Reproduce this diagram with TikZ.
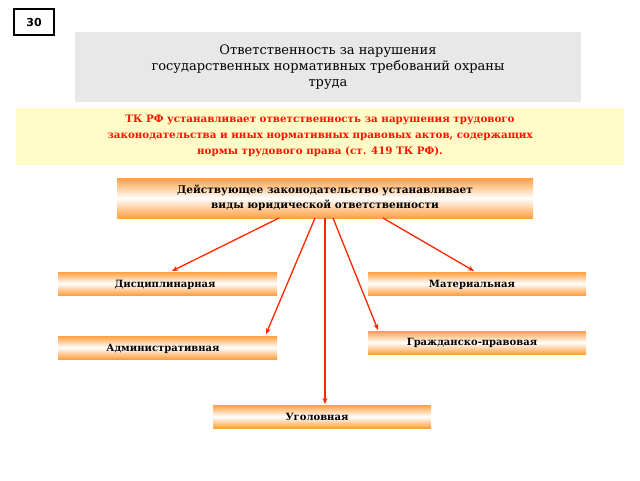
\documentclass[tikz,border=0pt]{standalone}
\usepackage{fontspec}
\setmainfont{DejaVu Serif}
\setsansfont{DejaVu Sans}
\begin{document}
\begin{tikzpicture}[x=1pt,y=-1pt,
 grad/.style={top color=orange!75,bottom color=orange!75,middle color=white,draw=none},
 lbl/.style={font=\bfseries\fontsize{10}{12}\selectfont,inner sep=0pt},
 arr/.style={draw=red!70!orange,line width=1.3pt,-{Stealth[length=6pt,width=5pt]}}]
\usetikzlibrary{arrows.meta}
\useasboundingbox (0,0) rectangle (640,480);
\draw[line width=2.5pt] (14,9) rectangle (54,35);
\node[font=\sffamily\bfseries\fontsize{11}{13}\selectfont] (num) at (34,22) {30};
\fill[gray!18] (75,32) rectangle (581,102);
\node[align=center,font=\fontsize{13}{16}\selectfont] (title) at (328,67) {Ответственность за нарушения\\государственных нормативных требований охраны\\труда};
\fill[yellow!22] (16,108) rectangle (624,165);
\node[align=center,text=red!85!orange,font=\bfseries\fontsize{10.3}{16}\selectfont] (tk) at (320,136) {ТК РФ устанавливает ответственность за нарушения трудового\\законодательства и иных нормативных правовых актов, содержащих\\нормы трудового права (ст. 419 ТК РФ).};
\shade[grad] (117,178) rectangle (533,218);
\node[lbl,align=center,font=\bfseries\fontsize{10.5}{15}\selectfont] (main) at (325,198) {Действующее законодательство устанавливает\\виды юридической ответственности};
\shade[grad] (58,272) rectangle (277,295);
\node[lbl] (d) at (165,285) {Дисциплинарная};
\shade[grad] (368,272) rectangle (586,295);
\node[lbl] (m) at (472,285) {Материальная};
\shade[grad] (58,336) rectangle (277,359);
\node[lbl] (a) at (163,349) {Административная};
\shade[grad] (368,331) rectangle (586,354);
\node[lbl] (g) at (472,343) {Гражданско-правовая};
\shade[grad] (213,405) rectangle (431,428);
\node[lbl] (u) at (317,417) {Уголовная};
\coordinate (s1) at (279,218); \coordinate (e1) at (172,271);
\coordinate (s2) at (315,218); \coordinate (e2) at (266,334);
\coordinate (s3) at (325,218); \coordinate (e3) at (325,404);
\coordinate (s4) at (333,218); \coordinate (e4) at (378,330);
\coordinate (s5) at (383,218); \coordinate (e5) at (474,271);
\draw[arr] (s1) -- (e1);
\draw[arr] (s2) -- (e2);
\draw[arr] (s3) -- (e3);
\draw[arr] (s4) -- (e4);
\draw[arr] (s5) -- (e5);
\end{tikzpicture}
\end{document}
